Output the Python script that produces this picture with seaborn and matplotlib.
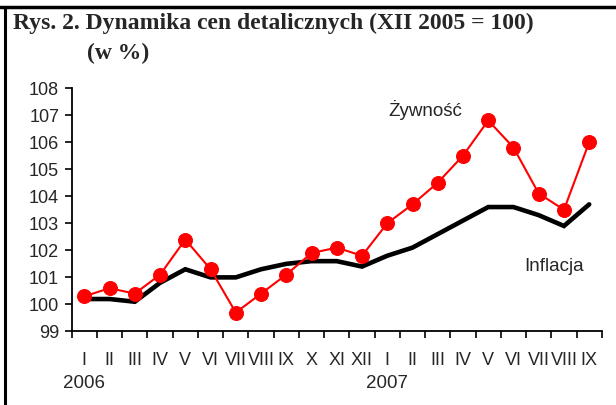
import matplotlib
matplotlib.use("Agg")
import matplotlib.pyplot as plt
from matplotlib.lines import Line2D
import numpy as np
import pandas as pd
import seaborn as sns

# Monthly labels (Roman numerals), Jan 2006 - Sep 2007
months = ["I", "II", "III", "IV", "V", "VI", "VII", "VIII", "IX", "X", "XI", "XII",
          "I", "II", "III", "IV", "V", "VI", "VII", "VIII", "IX"]
years = ["2006", "2007"]
year_start = [0, 12]

# Price indices, XII 2005 = 100
food = [100.3, 100.6, 100.4, 101.1, 102.4, 101.3, 99.7, 100.4, 101.1, 101.9, 102.1, 101.8,
        103.0, 103.7, 104.5, 105.5, 106.8, 105.8, 104.1, 103.5, 106.0]
inflation = [100.2, 100.2, 100.1, 100.8, 101.3, 101.0, 101.0, 101.3, 101.5, 101.6, 101.6, 101.4,
             101.8, 102.1, 102.6, 103.1, 103.6, 103.6, 103.3, 102.9, 103.7]

df = pd.DataFrame({"idx": np.arange(len(months)), "food": food, "inflation": inflation})

sns.set_theme(style="white")
plt.rcParams["font.family"] = ["Liberation Sans", "DejaVu Sans"]

fig = plt.figure(figsize=(6.16, 4.05), dpi=100)
ax = fig.add_axes([0.1164, 0.1815, 0.977 - 0.1164, 0.7827 - 0.1815])

sns.lineplot(data=df, x="idx", y="inflation", ax=ax, color="black", linewidth=3.3,
             solid_joinstyle="miter")
sns.lineplot(data=df, x="idx", y="food", ax=ax, color="#ff0000", linewidth=1.5,
             marker="o", markersize=10, markeredgecolor="#ff0000",
             markerfacecolor="#ff0000")

ax.set_xlim(-0.5, len(months) - 0.5)
ax.set_ylim(99, 108)
ax.set_yticks(range(99, 109))
ax.set_xlabel("")
ax.set_ylabel("")

# Tick marks at category boundaries, labels at category centres
ax.set_xticks(np.arange(-0.5, len(months)), minor=False)
ax.set_xticklabels([])
ax.set_xticks(np.arange(len(months)), minor=True)
ax.set_xticklabels(months, minor=True, fontsize=13)
ax.tick_params(axis="x", which="major", direction="out", length=5, width=1.2,
               color="black", bottom=True)
ax.tick_params(axis="x", which="minor", length=0, pad=15)
ax.tick_params(axis="y", direction="out", length=5, width=1.2, color="black",
               left=True, labelsize=13, pad=4)

for s in ["top", "right"]:
    ax.spines[s].set_visible(False)
for s in ["left", "bottom"]:
    ax.spines[s].set_color("black")
    ax.spines[s].set_linewidth(1.3)

# Year labels under the first month of each year
for yr, pos in zip(years, year_start):
    ax.text(pos, -0.215, yr, transform=ax.get_xaxis_transform(),
            ha="center", va="center", fontsize=13.5)

# Series labels
ax.text(13.5, 107.17, "Żywność", ha="center", va="center", fontsize=13.5)
ax.text(18.6, 101.4, "Inflacja", ha="center", va="center", fontsize=13.5)

# Title
fig.text(13 / 616, 1 - 23 / 405, "Rys. 2. Dynamika cen detalicznych (XII 2005 = 100)",
         family="Liberation Serif", fontweight="bold", fontsize=17, ha="left", va="center")
fig.text(87 / 616, 1 - 53 / 405, "(w %)",
         family="Liberation Serif", fontweight="bold", fontsize=17, ha="left", va="center")

# Frame lines along the top and left edges
fig.add_artist(Line2D([0, 1], [1 - 7.0 / 405, 1 - 7.0 / 405], transform=fig.transFigure,
                      color="black", linewidth=2.5))
fig.add_artist(Line2D([4.7 / 616, 4.7 / 616], [0, 1 - 7.0 / 405], transform=fig.transFigure,
                      color="black", linewidth=2.2))

fig.savefig("out.png", dpi=100)
